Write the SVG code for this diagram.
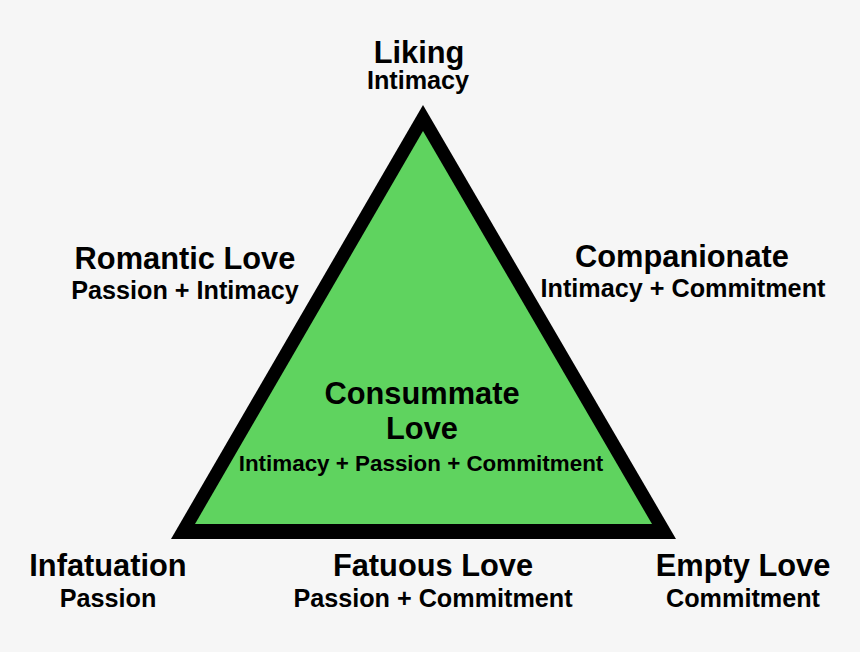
<svg xmlns="http://www.w3.org/2000/svg" width="860" height="652" viewBox="0 0 860 652">
<style>
text{font-family:"Liberation Sans",Arial,sans-serif;font-weight:bold;fill:#000;text-anchor:middle}
.t{font-size:30.8px}
.s{font-size:25.2px}
.c{font-size:22.4px}
</style>
<rect width="860" height="652" fill="#f6f6f6"/>
<g id="triangle">
<polygon points="423,105 171,539 676,539" fill="#000"/>
<polygon points="423,131 195,524 652,524" fill="#5fd35f"/>
</g>
<g id="connectors"></g>
<g id="liking"><text class="t" x="419" y="63">Liking</text><text class="s" x="418" y="89">Intimacy</text></g>
<g id="romantic"><text class="t" x="185" y="269">Romantic Love</text><text class="s" x="185" y="299">Passion + Intimacy</text></g>
<g id="companionate"><text class="t" x="682" y="267">Companionate</text><text class="s" x="683" y="297">Intimacy + Commitment</text></g>
<g id="consummate"><text class="t" x="422" y="404">Consummate</text><text class="t" x="422" y="439">Love</text><text class="c" x="421" y="471">Intimacy + Passion + Commitment</text></g>
<g id="infatuation"><text class="t" x="108" y="576">Infatuation</text><text class="s" x="108" y="607">Passion</text></g>
<g id="fatuous"><text class="t" x="433" y="576">Fatuous Love</text><text class="s" x="433" y="607">Passion + Commitment</text></g>
<g id="empty"><text class="t" x="743" y="576">Empty Love</text><text class="s" x="743" y="607">Commitment</text></g>
</svg>
